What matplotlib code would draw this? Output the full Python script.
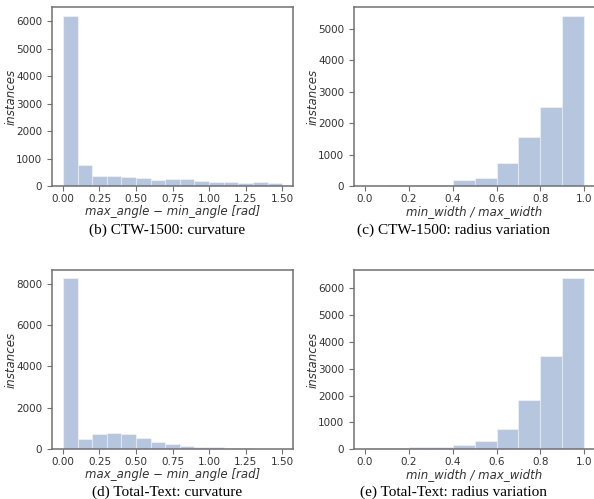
"""Histograms of text-instance curvature and radius variation for
CTW-1500 and Total-Text."""
import matplotlib
matplotlib.use("Agg")
import matplotlib.pyplot as plt
import numpy as np

plt.rcParams.update({
    "font.family": "DejaVu Sans",
    "axes.edgecolor": "#707070",
    "axes.linewidth": 1.1,
    "xtick.color": "#707070",
    "ytick.color": "#707070",
    "xtick.labelcolor": "#333333",
    "ytick.labelcolor": "#333333",
    "xtick.major.size": 3.5,
    "ytick.major.size": 3.5,
    "xtick.major.pad": 2.5,
    "xtick.labelsize": 7.5,
    "ytick.labelsize": 7.5,
})

# curvature: bins of 0.1 rad over [0, 1.5]
curv_edges = np.linspace(0.0, 1.5, 16)
ctw_curv = [6200, 750, 365, 385, 330, 280, 235, 255, 245, 170, 145, 145, 120, 165, 110]
tt_curv = [8250, 480, 740, 800, 720, 550, 360, 250, 165, 120, 80, 55, 40, 25, 15]

# radius variation: bins of 0.1 over [0, 1]
rad_edges = np.linspace(0.0, 1.0, 11)
ctw_rad = [5, 40, 20, 50, 180, 265, 720, 1555, 2500, 5420]
tt_rad = [40, 25, 60, 85, 160, 310, 750, 1845, 3470, 6370]

curv_ticks = [0.0, 0.25, 0.5, 0.75, 1.0, 1.25, 1.5]
rad_ticks = [0.0, 0.2, 0.4, 0.6, 0.8, 1.0]

curv_label = "max_angle \u2212 min_angle [rad]"
rad_label = "min_width / max_width"

panels = [
    ([0.0875, 0.627, 0.406, 0.359], curv_edges, ctw_curv, curv_ticks, "{:.2f}",
     curv_label, "(b) CTW-1500: curvature", 0.281, 0.531),
    ([0.596, 0.627, 0.406, 0.359], rad_edges, ctw_rad, rad_ticks, "{:.1f}",
     rad_label, "(c) CTW-1500: radius variation", 0.763, 0.531),
    ([0.0875, 0.100, 0.406, 0.359], curv_edges, tt_curv, curv_ticks, "{:.2f}",
     curv_label, "(d) Total-Text: curvature", 0.281, 0.007),
    ([0.596, 0.100, 0.406, 0.359], rad_edges, tt_rad, rad_ticks, "{:.1f}",
     rad_label, "(e) Total-Text: radius variation", 0.763, 0.007),
]

fig = plt.figure(figsize=(5.94, 4.99), dpi=100)
for rect, edges, counts, ticks, fmt, xlabel, caption, cx, cy in panels:
    ax = fig.add_axes(rect)
    ax.bar(edges[:-1], counts, width=np.diff(edges), align="edge",
           color="#4c72b0", alpha=0.4, edgecolor="white", linewidth=0.8)
    ax.set_xticks(ticks)
    ax.set_xticklabels([fmt.format(t) for t in ticks])
    ax.set_xlim(edges[0] - 0.05 * edges[-1], edges[-1] * 1.05)
    ax.set_ylabel("instances", fontsize=8.5, style="italic", color="#333333",
                  labelpad=-1)
    ax.set_xlabel(xlabel, fontsize=8.5, style="italic", color="#333333",
                  labelpad=0.5)
    fig.text(cx, cy, caption, ha="center", va="baseline",
             family="Liberation Serif", fontsize=11, color="black")

fig.savefig("out.png", dpi=100)
